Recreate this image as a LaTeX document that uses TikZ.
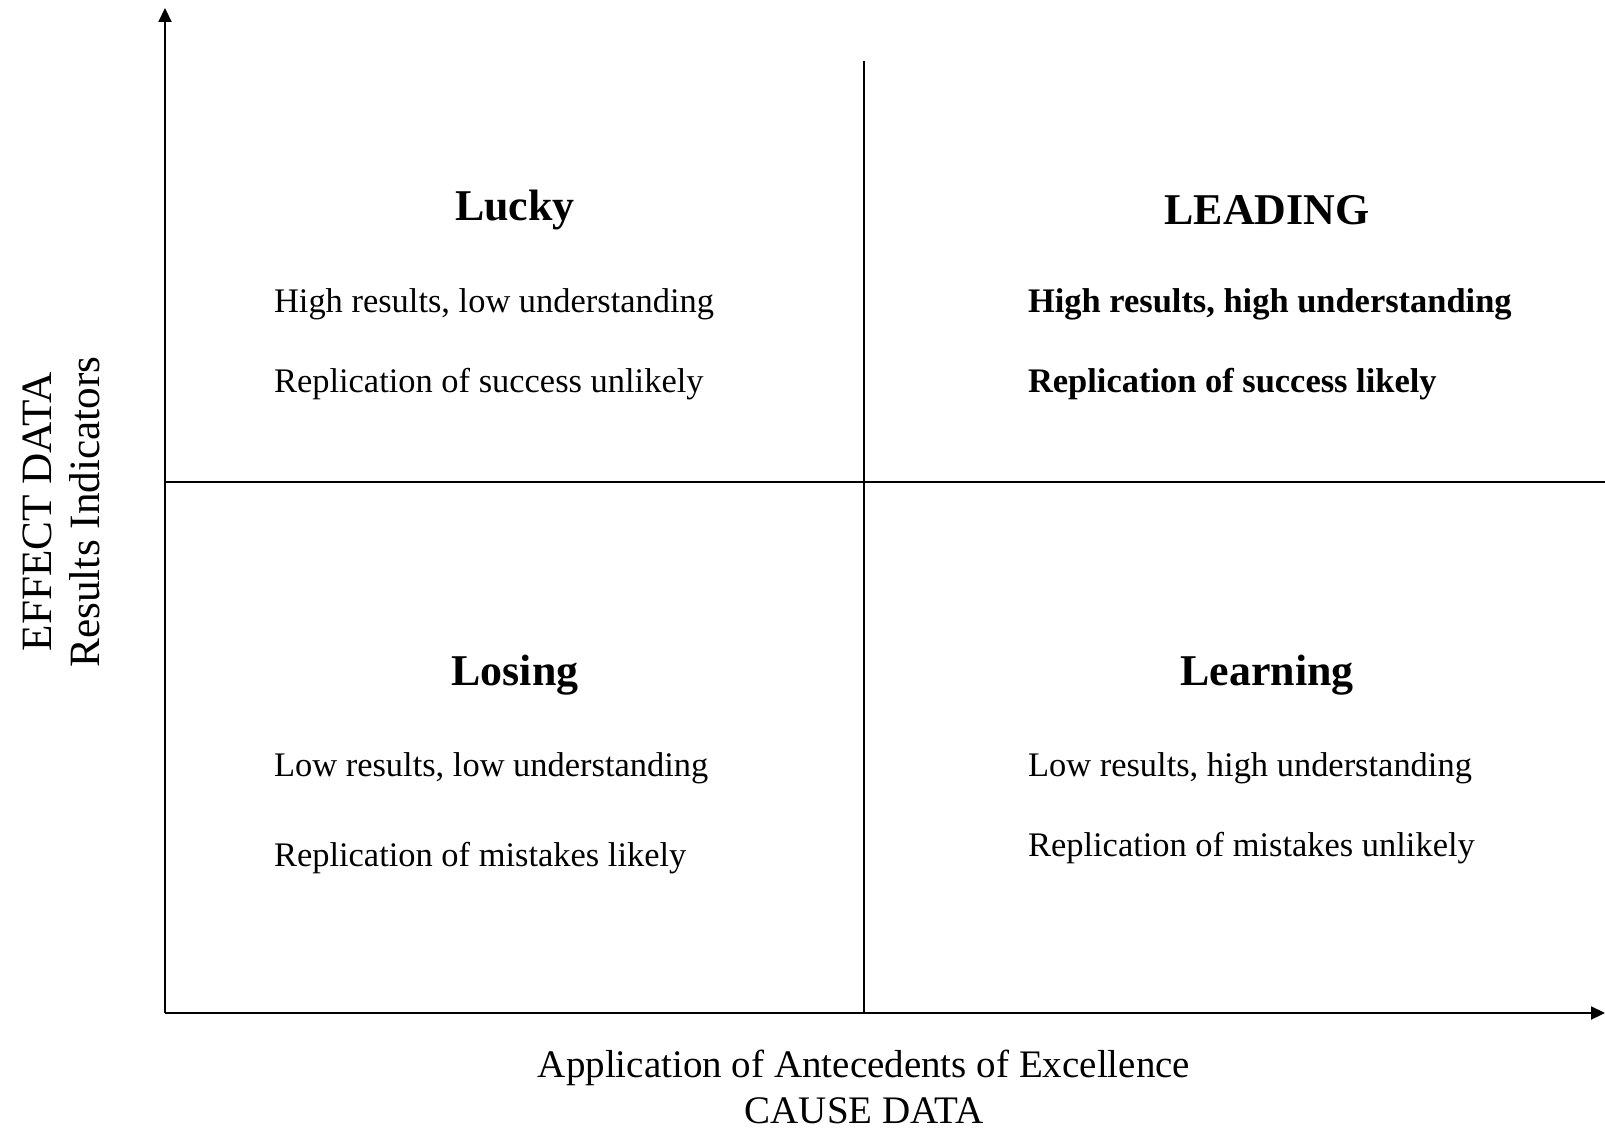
\documentclass[tikz,border=0pt]{standalone}
\usepackage{fontspec}
\setmainfont{Liberation Serif}
\usetikzlibrary{arrows.meta}
\tikzset{
    title/.style={font=\fontsize{12.5}{15}\selectfont\bfseries},
    body/.style={anchor=west, inner sep=0pt, font=\fontsize{9.8}{12}\selectfont},
    axislabel/.style={align=center, inner sep=1pt}
}
\begin{document}
\begin{tikzpicture}[>={Triangle[length=1.4mm,width=1.3mm]}, line width=0.6pt]
\useasboundingbox (0,0) rectangle (16.05,11.28);
\coordinate (O) at (1.65,1.15);
\coordinate (ytop) at (1.65,11.20);
\coordinate (xend) at (16.05,1.15);
\draw[->](O)--(ytop);
\draw[->](O)--(xend);

% quadrant lines
\coordinate (vtop) at (8.64,10.67);
\coordinate (vbot) at (8.64,1.15);
\coordinate (hleft) at (1.65,6.46);
\coordinate (hright) at (16.05,6.46);
\draw (vbot)--(vtop);
\draw (hleft)--(hright);

\foreach \n/\x/\y/\t in {lucky/5.15/9.18/Lucky, leading/12.67/9.18/LEADING, losing/5.15/4.53/Losing, learning/12.67/4.53/Learning}
{
    \node[title] (\n) at (\x,\y) {\t};
}

\node[body] (luckyA) at (2.73,8.24) {High results, low understanding};
\node[body] (luckyB) at (2.73,7.44) {Replication of success unlikely};
\node[body, font=\fontsize{9.8}{12}\selectfont\bfseries] (leadingA) at (10.27,8.24) {High results, high understanding};
\node[body, font=\fontsize{9.8}{12}\selectfont\bfseries] (leadingB) at (10.27,7.44) {Replication of success likely};
\node[body] (losingA) at (2.73,3.60) {Low results, low understanding};
\node[body] (losingB) at (2.73,2.70) {Replication of mistakes likely};
\node[body] (learningA) at (10.27,3.60) {Low results, high understanding};
\node[body] (learningB) at (10.27,2.80) {Replication of mistakes unlikely};

\node[axislabel, font=\fontsize{11.1}{12.9}\selectfont] (xlabel) at (8.64,0.41) {Application of Antecedents of Excellence\\CAUSE DATA};
\node[axislabel, rotate=90, font=\fontsize{12.3}{13.8}\selectfont] (ylabel) at (0.615,6.16) {EFFECT DATA\\Results Indicators};
\end{tikzpicture}
\end{document}
